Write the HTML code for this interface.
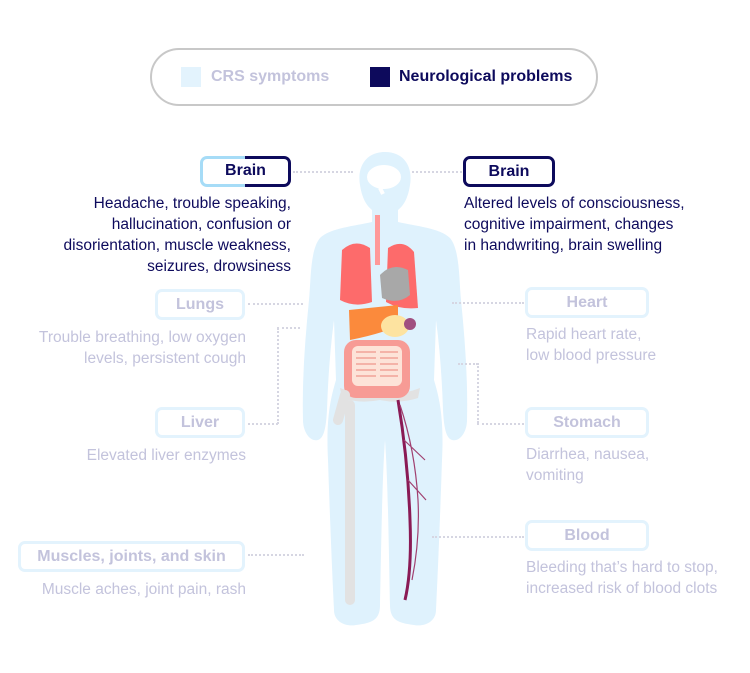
<!DOCTYPE html>
<html><head><meta charset="utf-8"><style>
body{margin:0;width:750px;height:673px;background:#fff;position:relative;overflow:hidden;font-family:"Liberation Sans",sans-serif}
.a{position:absolute}
.box{position:absolute;box-sizing:border-box;border:3px solid #e3f3fd;border-radius:7px;color:#c3c3dc;font-weight:bold;font-size:16px;text-align:center;display:flex;align-items:center;justify-content:center}
.g{color:#c3c3dc;font-size:15.5px;line-height:21px}
.n{color:#0d0a5c;font-size:15.5px;line-height:21px}
.dot{position:absolute;border-top:2px dotted #d6d6e2;height:0}
.vd{position:absolute;border-left:2px dotted #d6d6e2;width:0}
</style></head><body>
<div class="a" style="left:150px;top:48px;width:448px;height:58px;box-sizing:border-box;border:2px solid #c8c8c8;border-radius:29px"></div>
<div class="a" style="left:181px;top:67px;width:20px;height:20px;background:#e3f3fd"></div>
<div class="a" style="left:211px;top:68px;font-size:16px;color:#c3c3dc;font-weight:bold">CRS symptoms</div>
<div class="a" style="left:370px;top:67px;width:20px;height:20px;background:#0d0a5c"></div>
<div class="a" style="left:399px;top:68px;font-size:16px;color:#0d0a5c;font-weight:bold">Neurological problems</div>

<svg class="a" style="left:0;top:0" width="750" height="673">
<path d="M385 152 C365 152 357 168 360 185 C362 198 366 205 372 210 L372 222 C355 226 330 228 320 238 C310 250 311 280 309 300 C305 340 302 380 303 420 C303 432 310 442 318 440 C324 438 326 428 327 410 C328 380 330 350 334 320 L336 380 C330 400 326 420 328 460 C330 520 332 570 334 610 C334 622 346 627 356 625 C372 623 380 620 380 605 C381 560 382 480 385 440 C388 480 389 560 390 605 C390 620 398 623 414 625 C424 627 436 622 436 610 C438 570 440 520 442 460 C444 420 440 400 434 380 L436 320 C440 350 442 380 443 410 C444 428 446 438 452 440 C460 442 467 432 467 420 C468 380 465 340 461 300 C459 280 460 250 450 238 C440 228 415 226 398 222 L398 210 C404 205 408 198 410 185 C413 168 405 152 385 152Z" fill="#dff2fd"/>
<ellipse cx="384" cy="177" rx="17" ry="12" fill="#fff"/>
<path d="M380 188 L383 194" stroke="#fff" stroke-width="4"/>
<rect x="375" y="215" width="5" height="50" fill="#f99"/>
<path d="M342 250 Q355 238 370 248 L372 302 Q355 308 340 300 Z" fill="#fd6b6b"/>
<path d="M388 248 Q403 238 414 252 L418 308 Q400 310 386 302 Z" fill="#fd6b6b"/>
<path d="M380 275 Q392 262 408 270 L410 295 Q398 305 382 298 Z" fill="#a8a8a8"/>
<path d="M349 310 L398 305 L398 326 Q380 334 350 340 Z" fill="#fb8a3c"/>
<ellipse cx="395" cy="326" rx="14" ry="11" fill="#fde3a0"/>
<circle cx="410" cy="324" r="6" fill="#a05080"/>
<path d="M340 388 Q360 396 380 392 Q400 396 420 388 L418 398 Q400 404 380 400 Q360 404 342 398Z" fill="#e2e2e2"/>
<rect x="344" y="340" width="66" height="58" rx="12" fill="#f79b95"/>
<rect x="352" y="346" width="50" height="40" rx="6" fill="#fde3d8"/>
<path d="M356 352 H376 M356 358 H376 M356 364 H376 M356 370 H376 M356 376 H376 M380 352 H398 M380 358 H398 M380 364 H398 M380 370 H398 M380 376 H398" stroke="#f4b3a8" stroke-width="2"/>
<path d="M345 395 L338 420 M350 405 L350 600" stroke="#e2e2e2" stroke-width="10" stroke-linecap="round"/>
<path d="M398 400 Q408 460 410 520 Q412 570 405 600" stroke="#8a1a55" stroke-width="3" fill="none"/>
<path d="M400 405 Q415 450 418 500 Q420 540 412 580 M404 440 L425 460 M408 480 L426 500" stroke="#a04070" stroke-width="1.2" fill="none"/>
</svg>

<div class="a" style="left:200px;top:156px;width:55px;height:31px;box-sizing:border-box;border:3px solid #a6dcf7;border-right:none;border-radius:7px 0 0 7px"></div>
<div class="a" style="left:245px;top:156px;width:46px;height:31px;box-sizing:border-box;border:3px solid #0d0a5c;border-left:none;border-radius:0 7px 7px 0"></div>
<div class="a" style="left:200px;top:162px;width:91px;text-align:center;color:#0d0a5c;font-weight:bold;font-size:16px">Brain</div>
<div class="box" style="left:463px;top:156px;width:92px;height:31px;border-color:#0d0a5c;color:#0d0a5c">Brain</div>
<div class="dot" style="left:293px;top:171px;width:60px"></div>
<div class="dot" style="left:412px;top:171px;width:50px"></div>
<div class="a n" style="right:459px;top:193px;text-align:right;width:290px">Headache, trouble speaking,<br>hallucination, confusion or<br>disorientation, muscle weakness,<br>seizures, drowsiness</div>
<div class="a n" style="left:464px;top:193px;width:290px">Altered levels of consciousness,<br>cognitive impairment, changes<br>in handwriting, brain swelling</div>

<div class="box" style="left:155px;top:289px;width:90px;height:31px">Lungs</div>
<div class="dot" style="left:248px;top:303px;width:55px"></div>
<div class="a g" style="right:504px;top:327px;text-align:right;width:260px">Trouble breathing, low oxygen<br>levels, persistent cough</div>
<div class="box" style="left:155px;top:407px;width:90px;height:31px">Liver</div>
<div class="dot" style="left:248px;top:423px;width:30px"></div>
<div class="vd" style="left:277px;top:328px;height:96px"></div>
<div class="dot" style="left:277px;top:327px;width:23px"></div>
<div class="a g" style="right:504px;top:445px;text-align:right;width:260px">Elevated liver enzymes</div>
<div class="box" style="left:18px;top:541px;width:227px;height:31px">Muscles, joints, and skin</div>
<div class="dot" style="left:248px;top:554px;width:56px"></div>
<div class="a g" style="right:504px;top:579px;text-align:right;width:260px">Muscle aches, joint pain, rash</div>

<div class="box" style="left:525px;top:287px;width:124px;height:31px">Heart</div>
<div class="dot" style="left:452px;top:302px;width:72px"></div>
<div class="a g" style="left:526px;top:324px">Rapid heart rate,<br>low blood pressure</div>
<div class="box" style="left:525px;top:407px;width:124px;height:31px">Stomach</div>
<div class="dot" style="left:458px;top:363px;width:20px"></div>
<div class="vd" style="left:477px;top:363px;height:60px"></div>
<div class="dot" style="left:477px;top:423px;width:47px"></div>
<div class="a g" style="left:526px;top:444px">Diarrhea, nausea,<br>vomiting</div>
<div class="box" style="left:525px;top:520px;width:124px;height:31px">Blood</div>
<div class="dot" style="left:432px;top:536px;width:92px"></div>
<div class="a g" style="left:526px;top:557px">Bleeding that’s hard to stop,<br>increased risk of blood clots</div>
</body></html>
